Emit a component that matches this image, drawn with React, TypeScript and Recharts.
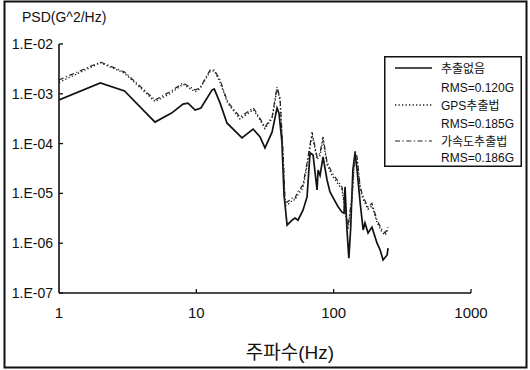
import React from 'react';
import { LineChart, Line, XAxis, YAxis, Legend } from 'recharts';

const FONT = '"Liberation Sans", "Noto Sans CJK KR", sans-serif';
const INK = '#111';

// tick values and labels
const xTicks = [1, 10, 100, 1000];
const xTickLabels = ['1', '10', '100', '1000'];
const yTicks = [1e-7, 1e-6, 1e-5, 1e-4, 1e-3, 1e-2];
const yTickLabels = ['1.E-07', '1.E-06', '1.E-05', '1.E-04', '1.E-03', '1.E-02'];

// legend texts
const seriesNames = ['추출없음', 'GPS추출법', '가속도추출법'];
const rmsLabels = ['RMS=0.120G', 'RMS=0.185G', 'RMS=0.186G'];

// [frequency Hz, PSD G^2/Hz]
const psdNone: [number, number][] = [
  [1, 7.5e-4], [2, 1.65e-3], [3, 1.14e-3], [5, 2.7e-4], [6.6, 4.1e-4],
  [8.0, 6.2e-4], [8.7, 6.5e-4], [9.8, 4.7e-4], [10.8, 5.2e-4], [13.0, 1.19e-3],
  [13.5, 1.25e-3], [14.9, 6.5e-4], [16.7, 2.6e-4], [21.5, 1.3e-4], [25.9, 1.96e-4],
  [29.1, 1.36e-4], [31.6, 8.2e-5], [35.6, 1.7e-4], [38.7, 5.2e-4], [40, 4.1e-4],
  [42, 1.08e-4], [43.5, 9.3e-6], [45.8, 2.3e-6], [49.8, 2.9e-6], [52.3, 3.2e-6],
  [55, 2.9e-6], [59.8, 4.6e-6], [64, 8.5e-6], [67.3, 6.5e-5], [70.8, 5.9e-5],
  [75.7, 1.17e-5], [77, 2.95e-5], [79.6, 2.3e-5], [83.7, 5.4e-5], [89.5, 1.86e-5],
  [94, 1.07e-5], [108, 5.3e-6], [115, 4.2e-6], [119, 4.0e-6], [121, 1.35e-5],
  [125, 1.84e-6], [129, 5.0e-7], [133, 2.0e-6], [138, 2.95e-5], [143, 6.5e-5],
  [148, 2.95e-5], [156, 6.4e-6], [164, 1.84e-6], [169, 2.55e-6], [178, 1.6e-6],
  [190, 2.1e-6], [207, 1.0e-6], [218, 7.3e-7], [229, 4.6e-7], [245, 5.8e-7],
  [249, 8.0e-7],
];

const psdGps: [number, number][] = [
  [1, 1.7e-3], [2, 4.2e-3], [3, 2.6e-3], [5, 7.0e-4], [6.4, 1.0e-3],
  [8, 1.55e-3], [9.8, 1.1e-3], [10.6, 1.25e-3], [12.6, 2.8e-3], [13.5, 2.9e-3],
  [14.9, 1.7e-3], [16.7, 7.0e-4], [17.6, 5.6e-4], [20.8, 3.1e-4], [26, 4.8e-4],
  [28.1, 3.5e-4], [31.6, 2.0e-4], [35.6, 3.2e-4], [38.7, 1.25e-3], [40.7, 7.5e-4],
  [42.9, 5.0e-5], [44.3, 5.6e-6], [45.8, 5.8e-6], [48.1, 6.6e-6], [50.9, 7.5e-6],
  [52.3, 7.3e-6], [55, 9.5e-6], [59.8, 1.3e-5], [64, 3.6e-5], [69.6, 1.45e-4],
  [70.8, 1.2e-4], [75.7, 4.8e-5], [79.6, 5.8e-5], [83.7, 1.2e-4], [89.5, 3.8e-5],
  [97.3, 2.3e-5], [106, 1.65e-5], [115, 1.2e-5], [121, 4.7e-6], [127, 1.9e-6],
  [136, 7.5e-6], [143, 6.8e-5], [148, 4.9e-5], [156, 1.2e-5], [164, 7.6e-6],
  [178, 4.8e-6], [190, 5.6e-6], [207, 2.6e-6], [225, 1.65e-6], [237, 1.45e-6],
  [249, 1.9e-6],
];

const psdAccel: [number, number][] = [
  [1, 1.9e-3], [2, 4.35e-3], [3, 2.74e-3], [5, 7.5e-4], [6.4, 1.09e-3],
  [8, 1.65e-3], [9.8, 1.2e-3], [10.6, 1.3e-3], [12.6, 3.0e-3], [13.5, 3.0e-3],
  [14.9, 1.9e-3], [16.7, 7.5e-4], [17.6, 6.0e-4], [20.8, 3.4e-4], [26, 5.2e-4],
  [28.1, 3.75e-4], [31.6, 2.15e-4], [35.6, 3.4e-4], [38.7, 1.37e-3], [40.7, 8.2e-4],
  [42.9, 5.9e-5], [44.3, 6.7e-6], [45.8, 6.7e-6], [48.1, 7.4e-6], [50.9, 8.5e-6],
  [52.3, 8.1e-6], [55, 1.1e-5], [59.8, 1.48e-5], [64, 4.1e-5], [69.6, 1.7e-4],
  [70.8, 1.36e-4], [75.7, 5.4e-5], [79.6, 6.5e-5], [83.7, 1.36e-4], [89.5, 4.26e-5],
  [97.3, 2.57e-5], [106, 1.86e-5], [115, 1.35e-5], [121, 5.3e-6], [127, 2.1e-6],
  [136, 8.5e-6], [143, 7.4e-5], [148, 5.4e-5], [156, 1.35e-5], [164, 8.5e-6],
  [178, 5.3e-6], [190, 6.3e-6], [207, 2.9e-6], [225, 1.84e-6], [237, 1.6e-6],
  [249, 2.1e-6],
];

const toRows = (arr: [number, number][]) => arr.map(([f, v]) => ({ f, v }));

const STYLES = [
  { dash: undefined as string | undefined, width: 1.7, color: INK },
  { dash: '1.3 2.2', width: 1.4, color: '#222' },
  { dash: '5 2.5 1.3 2.5', width: 1.2, color: '#222' },
];

const YTick = (props: any) => {
  const { x, y, index } = props;
  return (
    <g>
      <line x1={x + 6} x2={x + 10} y1={y} y2={y} stroke={INK} strokeWidth={1.3} />
      <text x={x} y={y + 5} textAnchor="end" fontSize={14} fontFamily={FONT} fill={INK}>
        {yTickLabels[index]}
      </text>
    </g>
  );
};

const XTick = (props: any) => {
  const { x, y, index } = props;
  return (
    <g>
      {index > 0 && <line x1={x} x2={x} y1={y} y2={y - 4} stroke={INK} strokeWidth={1.3} />}
      <text x={x} y={y + 25} textAnchor="middle" fontSize={15} fontFamily={FONT} fill={INK}>
        {xTickLabels[index]}
      </text>
    </g>
  );
};

const LegendBox = () => {
  const rowsY = [12, 31, 49, 67, 85, 101];
  return (
    <svg width={138} height={111} style={{ display: 'block' }}>
      <rect x={0.75} y={0.75} width={136.5} height={109.5} fill="#fff" stroke={INK} strokeWidth={1.5} />
      {seriesNames.map((name, i) => (
        <g key={name}>
          <line
            x1={11}
            x2={48}
            y1={rowsY[i * 2]}
            y2={rowsY[i * 2]}
            stroke={STYLES[i].color}
            strokeWidth={STYLES[i].width}
            strokeDasharray={STYLES[i].dash}
          />
          <text x={57} y={rowsY[i * 2] + 4.5} fontSize={12} fontFamily={FONT} fill={INK}>
            {name}
          </text>
          <text x={57} y={rowsY[i * 2 + 1] + 4.5} fontSize={12} fontFamily={FONT} fill={INK}>
            {rmsLabels[i]}
          </text>
        </g>
      ))}
    </svg>
  );
};

const allSeries = [psdNone, psdGps, psdAccel];

export default function App() {
  return (
    <div style={{ position: 'absolute', left: 0, top: 0, width: 530, height: 370, background: '#fff' }}>
      <LineChart width={530} height={370} margin={{ top: 44, right: 59, bottom: 47, left: 0 }}>
        <XAxis
          type="number"
          dataKey="f"
          scale="log"
          domain={[1, 1000]}
          allowDataOverflow
          ticks={xTicks}
          interval={0}
          height={30}
          tickSize={0}
          tickMargin={0}
          tick={<XTick />}
          axisLine={{ stroke: INK, strokeWidth: 1.6 }}
          tickLine={false}
        />
        <YAxis
          type="number"
          dataKey="v"
          scale="log"
          domain={[1e-7, 1e-2]}
          allowDataOverflow
          ticks={yTicks}
          interval={0}
          width={59}
          tickSize={0}
          tickMargin={6}
          tick={<YTick />}
          axisLine={{ stroke: INK, strokeWidth: 1.6 }}
          tickLine={false}
        />
        <Legend
          layout="horizontal"
          verticalAlign="middle"
          align="center"
          wrapperStyle={{ position: 'absolute', left: 384, top: 56, width: 138, height: 111, margin: 0, padding: 0 }}
          content={() => <LegendBox />}
        />
        {allSeries.map((s, i) => (
          <Line
            key={seriesNames[i]}
            name={seriesNames[i]}
            data={toRows(s)}
            dataKey="v"
            type="linear"
            stroke={STYLES[i].color}
            strokeWidth={STYLES[i].width}
            strokeDasharray={STYLES[i].dash}
            dot={false}
            activeDot={false}
            isAnimationActive={false}
          />
        ))}
      </LineChart>
      <svg
        width={530}
        height={370}
        style={{ position: 'absolute', left: 0, top: 0, pointerEvents: 'none' }}
      >
        <rect x={4.5} y={1.5} width={522} height={366} fill="none" stroke={INK} strokeWidth={2} />
        <text x={22} y={22} fontSize={14} fontFamily={FONT} fill={INK}>PSD(G^2/Hz)</text>
        <text x={290} y={359} textAnchor="middle" fontSize={19} fontFamily={FONT} fill={INK}>주파수(Hz)</text>
      </svg>
    </div>
  );
}
